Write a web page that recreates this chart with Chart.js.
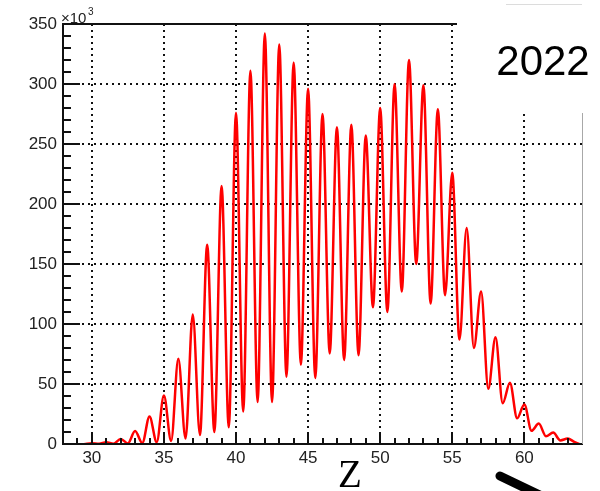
<!DOCTYPE html>
<html>
<head>
<meta charset="utf-8">
<script src="https://cdn.jsdelivr.net/npm/chart.js@4.4.1/dist/chart.umd.min.js"></script>
<style>
  html, body { margin: 0; padding: 0; background: #fff; overflow: hidden; }
  #wrap { width: 600px; height: 491px; position: relative; }
</style>
</head>
<body>
<div id="wrap"><canvas id="c" width="600" height="491"></canvas></div>
<script>
// Element yield versus atomic number Z (counts in units of 10^3)
const zValues = [
  29.5, 30, 30.5, 31, 31.5, 32, 32.5, 33, 33.5, 34, 34.5, 35, 35.5, 36, 36.5,
  37, 37.5, 38, 38.5, 39, 39.5, 40, 40.5, 41, 41.5, 42, 42.5, 43, 43.5, 44,
  44.5, 45, 45.5, 46, 46.5, 47, 47.5, 48, 48.5, 49, 49.5, 50, 50.5, 51, 51.5,
  52, 52.5, 53, 53.5, 54, 54.5, 55, 55.5, 56, 56.5, 57, 57.5, 58, 58.5, 59,
  59.5, 60, 60.5, 61, 61.5, 62, 62.5, 63, 63.5, 63.8
];
const counts = [
  0, 0.6, 0.2, 1.5, 0.3, 4.2, 0.5, 10.8, 0.8, 23, 1.5, 40.5, 2.5, 71, 4.5,
  108, 7.5, 166, 10, 215, 14, 276, 27, 311, 35, 342, 35, 333, 56, 318,
  66, 296, 55, 275, 75.5, 264, 70, 266, 74, 257, 114, 280, 110, 300, 127,
  320, 150, 299, 117, 279, 124, 226, 87, 180, 80, 127, 46, 89, 34, 51,
  21.5, 33, 11, 17, 6.5, 9.5, 3, 4.5, 1.5, 0
];
const xTicks = [30, 35, 40, 45, 50, 55, 60];
const yTicks = [0, 50, 100, 150, 200, 250, 300, 350];
const yearLabel = '2022';
const axisTitle = 'Z';

const SANS = '"Liberation Sans", Arial, Helvetica, sans-serif';
const SERIF = '"Liberation Serif", "Times New Roman", serif';

// Inner tick marks, frame, exponent, axis title and year box
const decor = {
  id: 'decor',
  afterDraw(chart) {
    const { ctx, chartArea: a, scales: { x, y } } = chart;
    const seg = (x1, y1, x2, y2) => { ctx.beginPath(); ctx.moveTo(x1, y1); ctx.lineTo(x2, y2); ctx.stroke(); };
    ctx.save();
    ctx.strokeStyle = '#111';
    ctx.lineWidth = 2;
    for (let z = 29; z <= 63; z++) {
      const px = Math.round(x.getPixelForValue(z));
      seg(px, a.bottom, px, a.bottom - (z % 5 === 0 ? 12 : 6));
    }
    for (let v = 10; v < 350; v += 10) {
      const py = Math.round(y.getPixelForValue(v));
      seg(a.left, py, a.left + (v % 50 === 0 ? 17 : 8), py);
    }
    // frame
    seg(a.left - 1, a.top, 457, a.top);
    seg(a.left, a.top - 1, a.left, a.bottom + 1);
    seg(a.left - 1, a.bottom, a.right + 1, a.bottom);
    ctx.strokeStyle = '#a8a8a8';
    ctx.lineWidth = 1;
    seg(a.right + 0.5, 113, a.right + 0.5, a.bottom);

    // year box
    ctx.fillStyle = '#fff';
    ctx.fillRect(457, 0, 143, 113);
    ctx.strokeStyle = '#dcdcdc';
    seg(506, 4.5, 582, 4.5);
    ctx.fillStyle = '#000';
    ctx.font = '42px ' + SANS;
    ctx.textAlign = 'center';
    ctx.textBaseline = 'alphabetic';
    ctx.fillText(yearLabel, 543, 75);

    // exponent of the y axis
    ctx.fillStyle = '#222';
    ctx.textAlign = 'left';
    ctx.font = '15px ' + SANS;
    ctx.fillText('\u00d710', 61, 23);
    ctx.font = '10px ' + SANS;
    ctx.fillText('3', 88, 15);

    // axis title
    ctx.fillStyle = '#000';
    ctx.font = '39px ' + SERIF;
    ctx.textAlign = 'center';
    ctx.fillText(axisTitle, 350, 487);

    // pointer stroke
    ctx.strokeStyle = '#000';
    ctx.lineWidth = 9;
    ctx.lineCap = 'round';
    seg(500, 476, 550, 500);
    ctx.restore();
  }
};

const gridColor = (c) => (c.tick && (c.tick.value === 0 || c.tick.value === 350)) ? 'rgba(0,0,0,0)' : '#111';

new Chart(document.getElementById('c'), {
  type: 'line',
  data: {
    datasets: [{
      data: zValues.map((z, i) => ({ x: z, y: counts[i] })),
      borderColor: '#ff0000',
      borderWidth: 2.5,
      pointRadius: 0,
      fill: false,
      cubicInterpolationMode: 'monotone'
    }]
  },
  options: {
    responsive: false,
    animation: false,
    devicePixelRatio: 1,
    layout: { padding: { top: 24, right: 18, left: 0, bottom: 0 } },
    plugins: { legend: { display: false }, tooltip: { enabled: false } },
    scales: {
      x: {
        type: 'linear',
        min: 28,
        max: 64,
        afterBuildTicks: (s) => { s.ticks = xTicks.map(v => ({ value: v })); },
        afterFit: (s) => { s.height = 47; },
        grid: { color: gridColor, lineWidth: 2, drawTicks: false },
        border: { display: true, color: '#111', width: 2, dash: [2, 4] },
        ticks: { color: '#222', font: { family: SANS, size: 17 }, padding: 4, maxRotation: 0 }
      },
      y: {
        type: 'linear',
        min: 0,
        max: 350,
        afterBuildTicks: (s) => { s.ticks = yTicks.map(v => ({ value: v })); },
        afterFit: (s) => { s.width = 63; },
        grid: { color: gridColor, lineWidth: 2, drawTicks: false },
        border: { display: true, color: '#111', width: 2, dash: [2, 4] },
        ticks: { color: '#222', font: { family: SANS, size: 17 }, padding: 6 }
      }
    }
  },
  plugins: [decor]
});
</script>
</body>
</html>
